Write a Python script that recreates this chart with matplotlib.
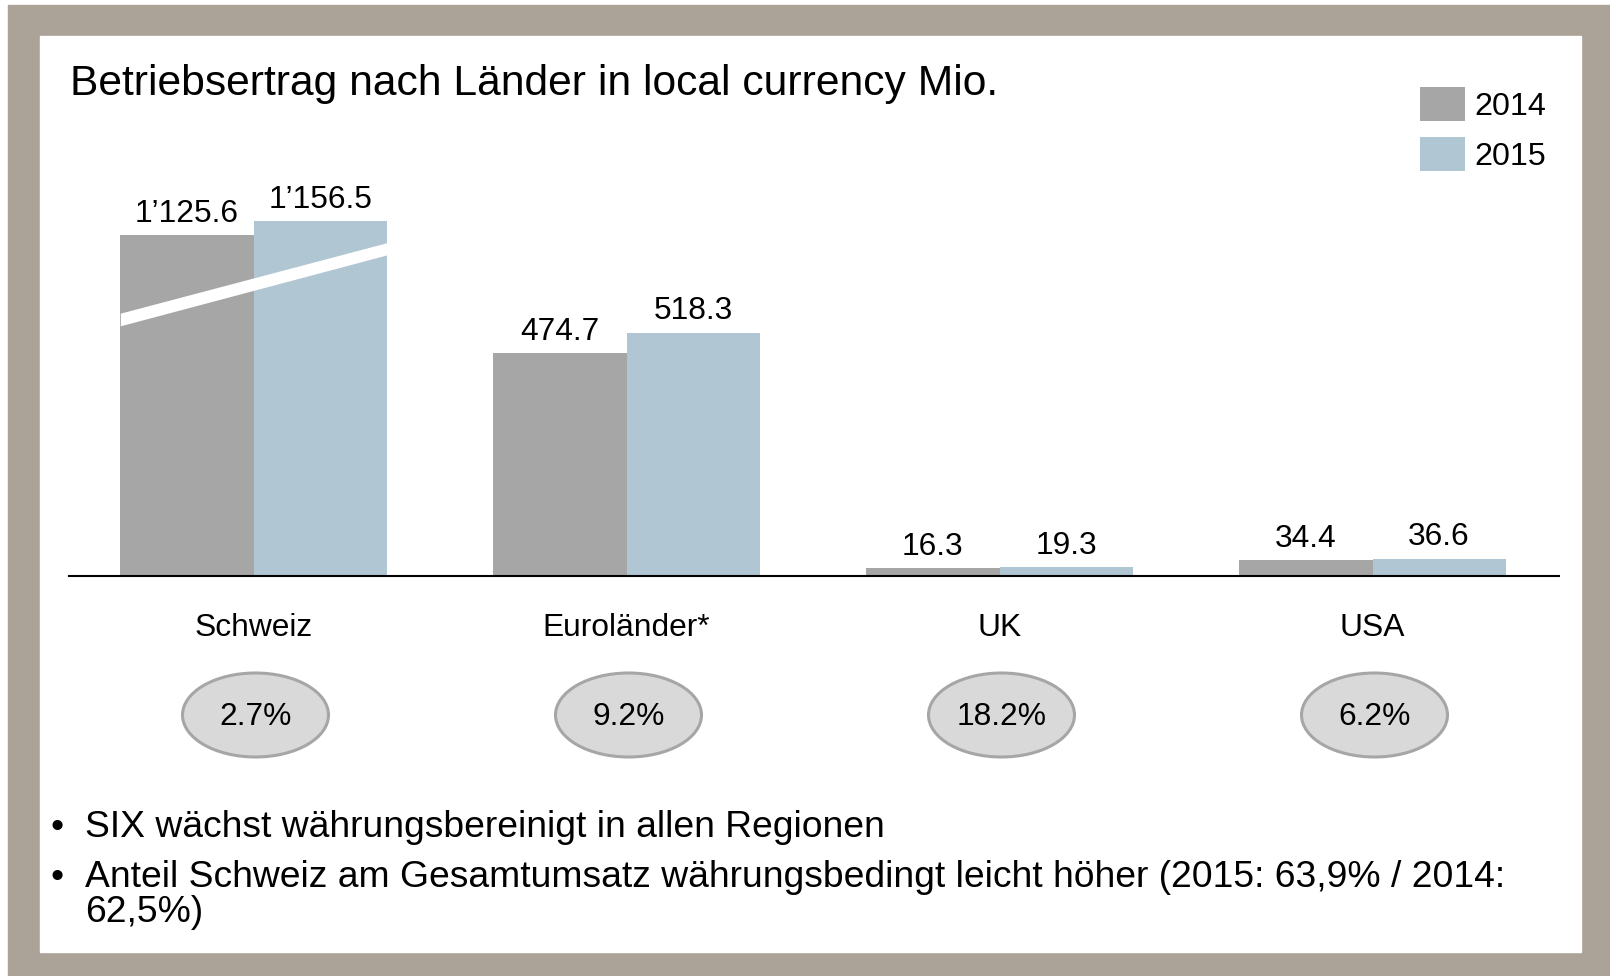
import matplotlib
matplotlib.use("Agg")
import matplotlib.pyplot as plt
from matplotlib.patches import Rectangle, Ellipse
import numpy as np

plt.rcParams['font.family'] = ['Liberation Sans', 'DejaVu Sans']

# ---------------- data ----------------
categories = ["Schweiz", "Euroländer*", "UK", "USA"]
values_2014 = [1125.6, 474.7, 16.3, 34.4]
values_2015 = [1156.5, 518.3, 19.3, 36.6]
labels_2014 = ["1\u2019125.6", "474.7", "16.3", "34.4"]
labels_2015 = ["1\u2019156.5", "518.3", "19.3", "36.6"]
growth = ["2.7%", "9.2%", "18.2%", "6.2%"]
series_names = ["2014", "2015"]
title = "Betriebsertrag nach Länder in local currency Mio."
bullets = [
    ["SIX wächst währungsbereinigt in allen Regionen"],
    ["Anteil Schweiz am Gesamtumsatz währungsbedingt leicht höher (2015: 63,9% / 2014:",
     "62,5%)"],
]

# ---------------- style ----------------
W, H = 1610, 976
DPI = 100
FS = 22.9          # chart text
FS_TITLE = 30.7
FS_BODY = 26.8
col14 = "#A6A6A6"
col15 = "#B0C6D3"
frame_col = "#ABA298"
axis_break = 400.0       # amount cut out of broken (Schweiz) bars
break_threshold = 800.0  # values above this are drawn broken

fig = plt.figure(figsize=(W / DPI, H / DPI), dpi=DPI)

# background / pixel axes (y downward)
bg = fig.add_axes([0, 0, 1, 1])
bg.set_xlim(0, W)
bg.set_ylim(H, 0)
bg.axis("off")
bg.add_patch(Rectangle((8, 5), W - 8, H - 5, color=frame_col, zorder=0))
bg.add_patch(Rectangle((40, 36), 1541, 916, color="white", zorder=1))

# bar axes
base_px = 576          # baseline, pixels from top
px_per_unit = 0.4694
ax_left, ax_right = 67, 1559
ax_h_px = 400
ax = fig.add_axes([ax_left / W, (H - base_px) / H, (ax_right - ax_left) / W, ax_h_px / H])
ax.set_xlim(-0.5, len(categories) - 0.5)
ax.set_ylim(0, ax_h_px / px_per_unit)
ax.patch.set_alpha(0)
for s in ["top", "right", "left"]:
    ax.spines[s].set_visible(False)
ax.spines["bottom"].set_linewidth(1.5)
ax.spines["bottom"].set_color("black")
ax.spines["bottom"].set_bounds(-0.495, 3.5)
ax.set_xticks([])
ax.set_yticks([])

x = np.arange(len(categories))
bw = 0.357

def drawn(v):
    return v - axis_break if v > break_threshold else v

h14 = [drawn(v) for v in values_2014]
h15 = [drawn(v) for v in values_2015]
b14 = ax.bar(x - bw / 2, h14, width=bw, color=col14, label=series_names[0], zorder=2)
b15 = ax.bar(x + bw / 2, h15, width=bw, color=col15, label=series_names[1], zorder=2)

# axis-break white stripe across broken bars
for i, v in enumerate(values_2014):
    if v > break_threshold:
        xs = np.array([i - bw, i + bw])
        lower = np.array([533.0, 684.0])
        upper = np.array([560.0, 710.0])
        ax.fill_between(xs, lower, upper, color="white", linewidth=0, zorder=3)

for i in range(len(categories)):
    ax.annotate(labels_2014[i], (x[i] - bw / 2, h14[i]), xytext=(0, 9.6),
                textcoords="offset points", ha="center", va="baseline", fontsize=FS,
                annotation_clip=False)
    ax.annotate(labels_2015[i], (x[i] + bw / 2, h15[i]), xytext=(0, 9.6),
                textcoords="offset points", ha="center", va="baseline", fontsize=FS,
                annotation_clip=False)

# legend
fs_px = 23.2 * DPI / 72
leg = ax.legend(handles=[b14, b15], loc="upper left",
                bbox_to_anchor=(1420 / W, 1 - 87 / H), bbox_transform=fig.transFigure,
                frameon=False, fontsize=23.2, borderpad=0, borderaxespad=0,
                handlelength=45 / fs_px, handleheight=1.24, handletextpad=9 / fs_px,
                labelspacing=0.47)

# category labels + growth ellipses (x positions from the bar axes scale)
fig.canvas.draw()
for i, cat in enumerate(categories):
    px = ax.transData.transform((x[i], 0))[0]
    bg.text(px, 636, cat, ha="center", va="baseline", fontsize=FS, zorder=5)
    bg.add_patch(Ellipse((px + 2, 715), 146, 84, facecolor="#D9D9D9",
                         edgecolor="#A6A6A6", linewidth=2.2, zorder=4))
    bg.text(px + 2, 717, growth[i], ha="center", va="center", fontsize=FS, zorder=5)

# title
bg.text(70, 95, title, ha="left", va="baseline", fontsize=FS_TITLE, zorder=5)

# bullets
y = 837
for para in bullets:
    bg.text(50, y, "\u2022", ha="left", va="baseline", fontsize=FS_BODY, zorder=5)
    for j, line in enumerate(para):
        bg.text(85, y, line, ha="left", va="baseline", fontsize=FS_BODY, zorder=5)
        if j < len(para) - 1:
            y += 35
    y += 50

fig.savefig("out.png", dpi=DPI)
